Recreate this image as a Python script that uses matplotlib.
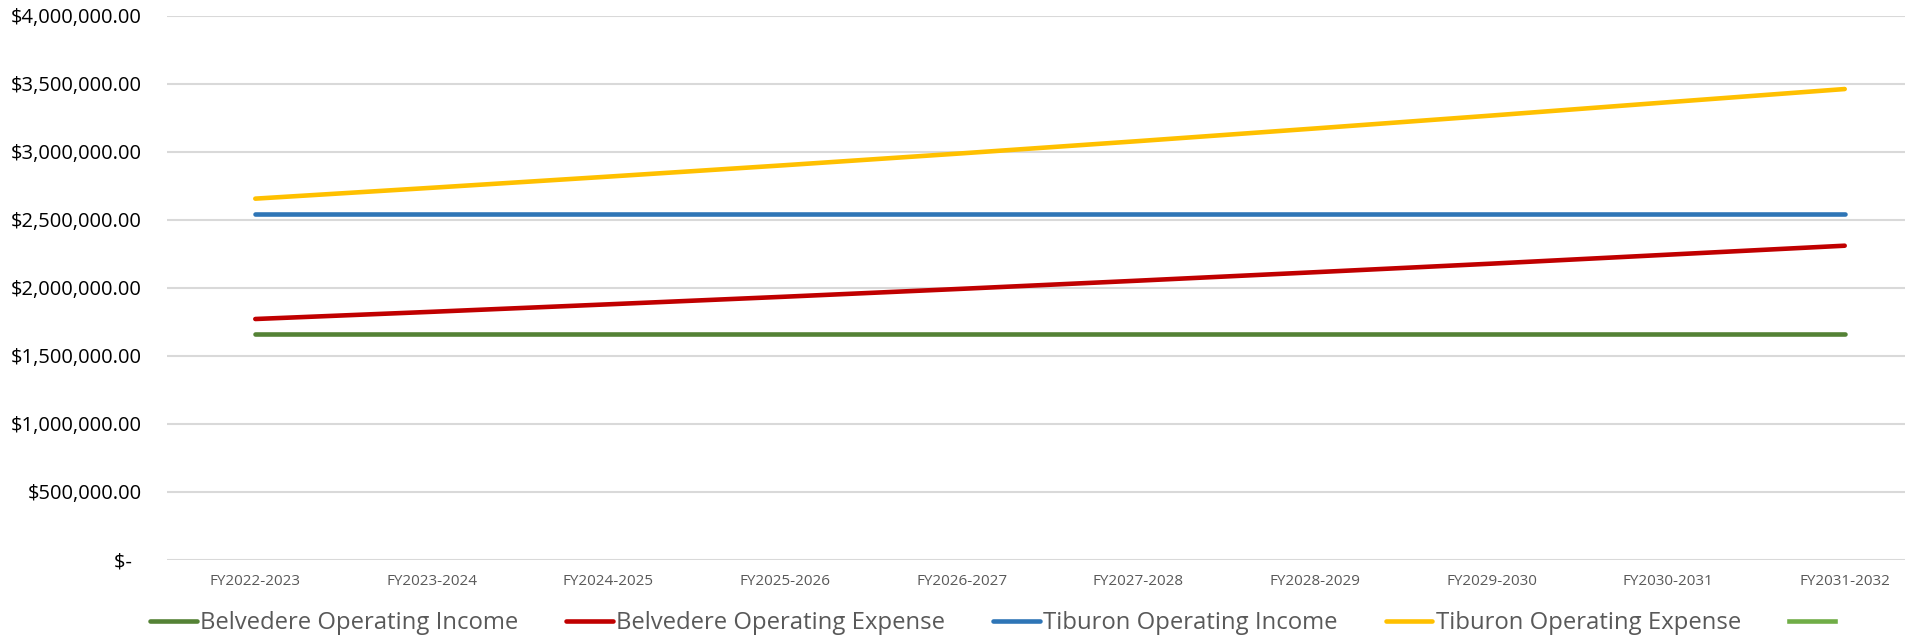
import matplotlib.pyplot as plt
from matplotlib.lines import Line2D
from matplotlib.ticker import FuncFormatter

years = ["FY2022-2023", "FY2023-2024", "FY2024-2025", "FY2025-2026", "FY2026-2027",
         "FY2027-2028", "FY2028-2029", "FY2029-2030", "FY2030-2031", "FY2031-2032"]
belv_income = [1664000] * 10
belv_expense = [1772000, 1825000, 1880000, 1936000, 1994000,
                2054000, 2116000, 2179000, 2245000, 2311000]
tib_income = [2542000] * 10
tib_expense = [2657000, 2737000, 2819000, 2903000, 2990000,
               3080000, 3173000, 3268000, 3366000, 3463000]

plt.rcParams['font.family'] = ['Open Sans', 'DejaVu Sans']

fig = plt.figure(figsize=(19.06, 6.39), dpi=100)
ax = fig.add_axes([167 / 1906, 1 - 560 / 639, 1766 / 1906, 544 / 639])

x = range(len(years))
lw = 3.3
l1, = ax.plot(x, belv_income, color="#548235", lw=lw, solid_capstyle="round")
l2, = ax.plot(x, belv_expense, color="#C00000", lw=lw, solid_capstyle="round")
l3, = ax.plot(x, tib_income, color="#2E75B6", lw=lw, solid_capstyle="round")
l4, = ax.plot(x, tib_expense, color="#FFC000", lw=lw, solid_capstyle="round")

ax.set_xlim(-0.5, len(years) - 0.5)
ax.set_ylim(0, 4000000)
ax.set_yticks(range(0, 4000001, 500000))
ax.yaxis.set_major_formatter(FuncFormatter(lambda v, p: "$-  " if v == 0 else f"${v:,.2f}"))
ax.set_xticks(list(x))
ax.set_xticklabels(years)
ax.grid(axis="y", color="#D9D9D9", lw=1.5)
ax.set_axisbelow(True)
for s in ax.spines.values():
    s.set_visible(False)
ax.tick_params(axis="y", length=0, pad=18, labelsize=14.5, labelcolor="#000000")
ax.tick_params(axis="x", length=0, pad=10, labelsize=11, labelcolor="#595959")

extra = Line2D([], [], color="#70AD47", lw=lw)
fig.legend([l1, l2, l3, l4, extra],
           ["Belvedere Operating Income", "Belvedere Operating Expense",
            "Tiburon Operating Income", "Tiburon Operating Expense", ""],
           loc="center left", bbox_to_anchor=(150 / 1906, 1 - 623 / 639), ncol=5,
           frameon=False, fontsize=17.2, labelcolor="#595959",
           handlelength=1.95, handletextpad=0.15, columnspacing=2.0,
           borderaxespad=0, borderpad=0)

fig.savefig("out.png", dpi=100)
